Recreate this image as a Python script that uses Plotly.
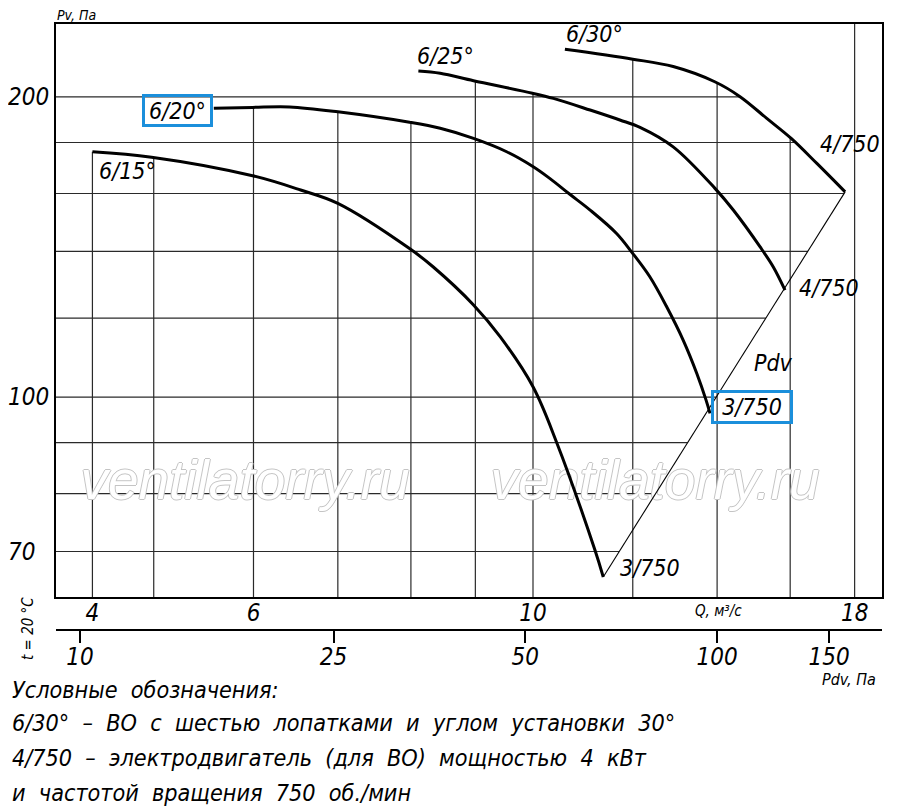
import numpy as np
import plotly.graph_objects as go

################################################################################
# Data: Q in m3/s, Pv in Pa
################################################################################

q_15 = [4.47, 4.98, 5.99, 6.54, 7.0, 7.98, 8.33, 8.97, 9.42, 10.0, 10.44, 11.20, 11.37]
pv_15 = [176.2, 174.0, 166.7, 161.3, 156.4, 140.9, 135.1, 123.7, 114.9, 102.4, 90.1, 70.2, 66.0]

q_20 = [5.58, 5.99, 6.41, 7.0, 7.98, 8.44, 8.97, 9.53, 9.99, 10.31, 10.69, 11.10, 11.65, 11.99,
        12.38, 12.77, 13.16, 13.49, 13.72, 13.82]
pv_20 = [194.8, 195.2, 195.4, 193.2, 188.6, 186.0, 181.7, 176.2, 170.4, 165.7, 159.8, 154.0, 145.9, 139.5,
         132.0, 123.1, 114.0, 105.6, 99.3, 96.3]

q_25 = [8.11, 8.44, 8.97, 9.99, 10.38, 11.10, 11.72, 12.16, 12.92, 13.94, 14.42, 15.14, 15.51, 15.85]
pv_25 = [212.3, 211.2, 207.6, 201.7, 199.3, 194.0, 189.6, 186.4, 178.2, 162.0, 154.0, 141.5, 135.1, 128.0]

q_30 = [10.60, 12.0, 12.92, 13.94, 14.60, 15.33, 16.03, 16.80, 17.69]
pv_30 = [223.2, 218.2, 214.5, 207.1, 200.1, 190.3, 181.7, 171.5, 160.6]

# Grid values and tick labels
grid_q = [4.47, 5, 6, 7, 8, 9, 10, 12, 14, 16, 18]
grid_pv = [70, 80, 90, 100, 120, 140, 160, 180, 200]
q_tickvals = [4.47, 6, 10, 18]
q_ticktext = ['4', '6', '10', '18']
pv_tickvals = [70, 100, 200]
pv_ticktext = ['70\u2007', '100', '200']
pdv_ticks = [10, 25, 50, 100, 150]

# Axis ranges (log10)
x_range = [0.6214, 1.277]
y_range = [1.7992, 2.3741]
x2_range = [0.9623, 2.2590]

FONT = 'Liberation Sans Narrow, DejaVu Sans Condensed, Arial Narrow, sans-serif'
BLUE = '#1b8fdb'

curves = [(q_15, pv_15), (q_20, pv_20), (q_25, pv_25), (q_30, pv_30)]

# Pdv line joins the end points of the curves
pdv_q = [q_15[-1], q_30[-1]]
pdv_pv = [pv_15[-1], pv_30[-1]]

################################################################################
# Grid: vertical lines stop at the top curve, horizontal ones at the right edge
################################################################################

def top_at(q):
    best = None
    for qs, ps in curves:
        if qs[0] <= q <= qs[-1]:
            v = 10 ** np.interp(np.log10(q), np.log10(qs), np.log10(ps))
            best = v if best is None else max(best, v)
    return best if best is not None else 10 ** y_range[1]

def right_at(pv):
    if pv >= pv_30[-1]:
        return 10 ** np.interp(np.log10(pv), np.log10(pv_30[::-1]), np.log10(q_30[::-1]))
    return 10 ** np.interp(np.log10(pv), np.log10(pdv_pv), np.log10(pdv_q))

gx, gy = [], []
for q in grid_q:
    gx += [q, q, None]
    gy += [10 ** y_range[0], top_at(q), None]
for pv in grid_pv:
    gx += [10 ** x_range[0], right_at(pv), None]
    gy += [pv, pv, None]

fig = go.Figure()

fig.add_trace(go.Scatter(x=gx, y=gy, mode='lines', line=dict(color='#2a2a2a', width=1.2),
                         hoverinfo='skip'))

# Watermark (between grid and curves)
fig.add_trace(go.Scatter(x=[5.907, 12.50], y=[81.6, 81.6], mode='text',
                         text=['ventilatorry.ru', 'ventilatorry.ru'],
                         textfont=dict(family='Liberation Sans, Arial, sans-serif', size=55,
                                       color='white', style='italic',
                                       shadow='1px 0 #c4c4c4, -1px 0 #c4c4c4, 0 1px #c4c4c4, 0 -1px #c4c4c4'),
                         hoverinfo='skip'))

# Pdv line
fig.add_trace(go.Scatter(x=pdv_q, y=pdv_pv, mode='lines', line=dict(color='black', width=1.1),
                         hoverinfo='skip'))

for qs, ps in curves:
    fig.add_trace(go.Scatter(x=qs, y=ps, mode='lines',
                             line=dict(color='black', width=3, shape='spline', smoothing=1.0)))

# invisible trace so the Pdv axis is drawn
fig.add_trace(go.Scatter(x=pdv_ticks, y=[100] * len(pdv_ticks), xaxis='x2', mode='markers',
                         marker=dict(opacity=0), hoverinfo='skip'))

################################################################################
# Layout (page body keeps its 8px margin, so the figure is 8px smaller)
################################################################################

tick_font = dict(family=FONT, size=24, color='black', style='italic')

fig.update_layout(
    width=892, height=801,
    margin=dict(l=48, r=18, t=16, b=179),
    plot_bgcolor='white', paper_bgcolor='white',
    showlegend=False,
    xaxis=dict(type='log', range=x_range, showgrid=False, zeroline=False, automargin=False,
               showline=True, mirror=True, linecolor='black', linewidth=2,
               tickmode='array', tickvals=q_tickvals, ticktext=q_ticktext,
               ticks='', ticklabelstandoff=-7, tickfont=tick_font, anchor='y'),
    yaxis=dict(type='log', range=y_range, domain=[0.054, 1], showgrid=False, zeroline=False,
               automargin=False,
               showline=True, mirror=True, linecolor='black', linewidth=2,
               tickmode='array', tickvals=pv_tickvals, ticktext=pv_ticktext,
               ticks='', tickfont=tick_font),
    xaxis2=dict(type='log', range=x2_range, overlaying='x', anchor='free', position=0,
                side='bottom', showgrid=False, zeroline=False, automargin=False,
                showline=True, linecolor='black', linewidth=2,
                tickmode='array', tickvals=pdv_ticks, ticks='outside', ticklen=12,
                tickwidth=1.5, tickcolor='black', ticklabelstandoff=-7, tickfont=tick_font),
)

def label(text, q, pv, anchor='left', size=23, **kw):
    fig.add_annotation(x=np.log10(q), y=np.log10(pv), xref='x', yref='y', text=text,
                       showarrow=False, xanchor=anchor, yanchor='middle',
                       font=dict(family=FONT, size=size, color='black', style='italic'), **kw)

label('6/15°', 4.51, 168.5)
label('6/20°', 5.226, 194.0, anchor='center', bordercolor=BLUE, borderwidth=3,
      borderpad=0, width=65, height=27)
label('6/25°', 8.06, 219.8)
label('6/30°', 10.58, 231.3)
label('4/750', 16.84, 179.3)
label('4/750', 16.2, 128.6)
label('Pdv', 14.92, 108.3)
label('3/750', 14.92, 97.7, anchor='center', bordercolor=BLUE, borderwidth=3,
      borderpad=0, width=76, height=28)
label('3/750', 11.68, 67.35)

def note(text, x, y, size, anchor='left', yanchor='middle', **kw):
    fig.add_annotation(x=x, y=y, xref='paper', yref='paper', text=text, showarrow=False,
                       xanchor=anchor, yanchor=yanchor,
                       font=dict(family=FONT, size=size, color='black', style='italic'), **kw)

note('Pv, Па', 0.0, 1.0, 14, yanchor='bottom', borderpad=0)
note('Q, м³/с', 0.802, 0.0314, 15, anchor='center')
note('Pdv, Па', 0.96, -0.0809, 16, anchor='center')
note('t = 20 °C', -0.0339, 0.0033, 15, anchor='center', textangle=-90)

legend_lines = [
    'Условные  обозначения:',
    '6/30°  –  ВО  с  шестью  лопатками  и  углом  установки  30°',
    '4/750  –  электродвигатель  (для  ВО)  мощностью  4  кВт',
    'и  частотой  вращения  750  об./мин',
]
legend_y = [689, 722, 757, 792]
for txt, yy in zip(legend_lines, legend_y):
    note(txt, -0.0557, (630 - yy) / 606, 23.2)

fig.write_html('out.html')
